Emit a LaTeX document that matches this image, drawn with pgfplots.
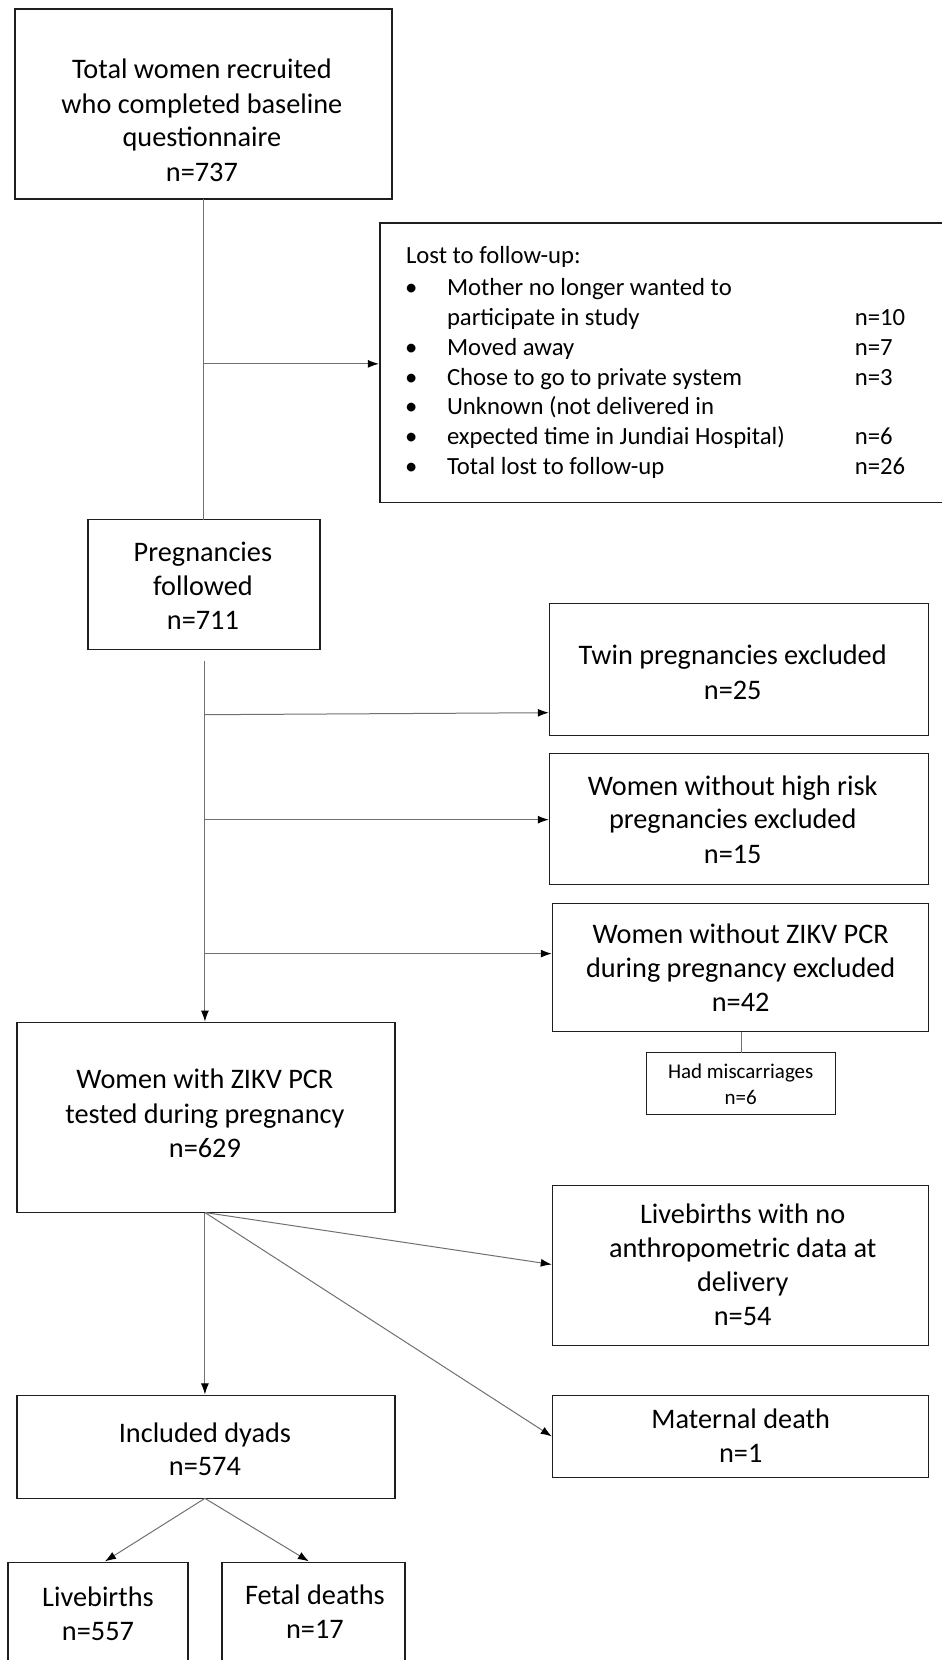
\documentclass[border=0pt]{standalone}
\usepackage{fontspec}
\setmainfont{Carlito}
\usepackage{pgfplots}
\pgfplotsset{compat=1.18}
\usetikzlibrary{arrows.meta}
\definecolor{boxc}{HTML}{1E1E1E}
\definecolor{linec}{HTML}{707070}
\newcommand{\bx}[4]{\addplot[boxc, line width=1.4bp, line join=miter, line cap=rect] coordinates {(#1,#2) (#3,#2) (#3,#4) (#1,#4) (#1,#2)};}
\newcommand{\ar}[4]{\addplot[linec, line width=1bp, -{Latex[length=11bp,width=8bp,color=black]}] coordinates {(#1,#2) (#3,#4)};}
\newcommand{\cn}[4]{\addplot[linec, line width=1bp] coordinates {(#1,#2) (#3,#4)};}
\newcommand{\tx}[3]{\node[anchor=mid, inner sep=0pt, yshift=-6bp, font=\fontsize{28.3bp}{34bp}\selectfont] at (axis cs:#1,#2) {#3};}
\newcommand{\tl}[3]{\node[anchor=mid west, inner sep=0pt, yshift=-3bp, font=\fontsize{24.7bp}{29bp}\selectfont] at (axis cs:#1,#2) {#3};}
\newcommand{\ts}[3]{\node[anchor=mid, inner sep=0pt, yshift=-5bp, font=\fontsize{21bp}{25bp}\selectfont] at (axis cs:#1,#2) {#3};}
\begin{document}
\begin{tikzpicture}
\begin{axis}[
  width=942bp, height=1661bp, scale only axis,
  xmin=0, xmax=942, ymin=0, ymax=1661, y dir=reverse,
  enlargelimits=false, clip=false,
  axis line style={draw=none}, xtick=\empty, ytick=\empty,
  major tick style={draw=none}
]
% boxes
\bx{15}{9}{392}{199}
\addplot[boxc, line width=1.4bp, line join=miter] coordinates {(942,223) (380,223) (380,503) (942,503)};
\bx{88}{520}{320}{650}
\bx{550}{604}{929}{736}
\bx{550}{754}{929}{885}
\bx{553}{904}{929}{1032}
\bx{647}{1053}{836}{1115}
\bx{17}{1023}{395}{1213}
\bx{553}{1186}{929}{1346}
\bx{553}{1396}{929}{1478}
\bx{17}{1396}{395}{1499}
\addplot[boxc, line width=1.4bp, line join=miter] coordinates {(8,1661) (8,1563) (188,1563) (188,1661)};
\addplot[boxc, line width=1.4bp, line join=miter] coordinates {(222,1661) (222,1563) (405,1563) (405,1661)};
% connectors
\cn{204}{199}{204}{520}
\ar{204}{364}{379}{364}
\ar{205}{661}{205}{1022}
\ar{205}{715}{549}{713}
\ar{205}{820}{549}{820}
\ar{205}{954}{552}{954}
\cn{742}{1032}{742}{1053}
\ar{205}{1213}{205}{1395}
\ar{205}{1213}{552}{1265}
\ar{205}{1213}{552}{1437}
\ar{205}{1499}{105}{1562}
\ar{205}{1499}{309}{1562}
% texts
\tx{202}{70}{Total women recruited}
\tx{202}{105}{who completed baseline}
\tx{202}{138}{questionnaire}
\tx{202}{173}{n=737}
\tl{406}{258}{Lost to follow-up:}
\tl{405}{290}{\textbullet}\tl{447}{290}{Mother no longer wanted to}
\tl{447}{320}{participate in study}\tl{855}{320}{n=10}
\tl{405}{350}{\textbullet}\tl{447}{350}{Moved away}\tl{855}{350}{n=7}
\tl{405}{380}{\textbullet}\tl{447}{380}{Chose to go to private system}\tl{855}{380}{n=3}
\tl{405}{409}{\textbullet}\tl{447}{409}{Unknown (not delivered in}
\tl{405}{439}{\textbullet}\tl{447}{439}{expected time in Jundiai Hospital)}\tl{855}{439}{n=6}
\tl{405}{469}{\textbullet}\tl{447}{469}{Total lost to follow-up}\tl{855}{469}{n=26}
\tx{203}{553}{Pregnancies}
\tx{203}{587}{followed}
\tx{203}{621}{n=711}
\tx{733}{656}{Twin pregnancies excluded}
\tx{733}{691}{n=25}
\tx{733}{787}{Women without high risk}
\tx{733}{820}{pregnancies excluded}
\tx{733}{855}{n=15}
\tx{741}{936}{Women without ZIKV PCR}
\tx{741}{970}{during pregnancy excluded}
\tx{741}{1004}{n=42}
\ts{741}{1072}{Had miscarriages}
\ts{741}{1098}{n=6}
\tx{205}{1081}{Women with ZIKV PCR}
\tx{205}{1116}{tested during pregnancy}
\tx{205}{1150}{n=629}
\tx{743}{1216}{Livebirths with no}
\tx{743}{1250}{anthropometric data at}
\tx{743}{1284}{delivery}
\tx{743}{1318}{n=54}
\tx{741}{1421}{Maternal death}
\tx{741}{1455}{n=1}
\tx{205}{1435}{Included dyads}
\tx{205}{1468}{n=574}
\tx{98}{1599}{Livebirths}
\tx{98}{1633}{n=557}
\tx{315}{1597}{Fetal deaths}
\tx{315}{1631}{n=17}
\end{axis}
\end{tikzpicture}
\end{document}
